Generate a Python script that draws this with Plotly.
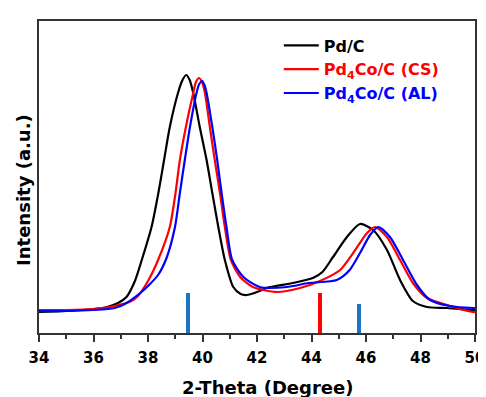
import plotly.graph_objects as go

# Pd/C (black)
pdc_x = [34.0, 35.0, 36.0, 36.5, 36.9, 37.21, 37.52, 37.76, 38.13, 38.38, 38.59, 38.80, 39.10, 39.25, 39.40,
         39.53, 39.66, 39.90, 40.15, 40.36, 40.58, 40.82, 41.13, 41.4, 41.63, 42.0, 42.36, 43.32, 44.05, 44.4,
         44.79, 45.30, 45.78, 46.26, 46.77, 47.25, 47.72, 48.24, 48.97, 49.93, 50.0]
pdc_y = [21, 22, 24, 26, 30, 36, 52, 72, 106, 140, 173, 206, 240, 252, 258,
         253, 240, 206, 173, 140, 106, 73, 46, 39, 38, 41, 45, 50, 55, 61,
         76, 96, 109, 103, 83, 53, 32, 26, 25, 23, 23]

# Pd4Co/C (CS) (red)
cs_x = [34.0, 35.0, 36.0, 36.78, 37.39, 37.63, 38.0, 38.37, 38.80, 39.01, 39.17, 39.39, 39.66, 39.76, 39.87,
        39.98, 40.09, 40.27, 40.45, 40.64, 40.82, 41.04, 41.38, 41.85, 42.73, 43.58, 44.31, 45.05, 45.53,
        46.04, 46.33, 46.77, 47.25, 47.72, 48.24, 48.97, 49.93, 50.0]
cs_y = [23, 23, 24, 27, 32, 37, 52, 73, 106, 140, 173, 206, 240, 251, 255,
        251, 240, 206, 173, 140, 106, 73, 56, 46, 41, 45, 52, 63, 80,
        100, 106, 96, 73, 50, 35, 28, 21, 21]

# Pd4Co/C (AL) (blue)
al_x = [34.0, 35.0, 36.0, 36.78, 37.15, 37.76, 38.0, 38.37, 38.68, 38.99, 39.17, 39.35, 39.54, 39.78, 39.88,
        39.99, 40.07, 40.15, 40.36, 40.54, 40.70, 40.88, 41.09, 41.5, 42.1, 43.09, 43.9, 44.93, 45.4, 45.78,
        46.15, 46.45, 46.88, 47.36, 47.87, 48.35, 49.08, 49.93, 50.0]
al_y = [22, 22, 23, 25, 29, 41, 47, 58, 75, 106, 140, 173, 206, 240, 249,
        252, 248, 240, 206, 173, 140, 106, 73, 56, 46, 46, 50, 53, 63, 80,
        98, 106, 96, 73, 48, 33, 27, 25, 25]

# Reference lines
ref_x = [39.46, 44.31, 45.75]
ref_h = [40, 40, 29]
ref_colors = ["#1a75c2", "#ff0000", "#1a75c2"]

FONT = "DejaVu Sans"

fig = go.Figure()
fig.add_trace(go.Bar(x=ref_x, y=ref_h, width=0.14, marker=dict(color=ref_colors, line=dict(width=0)),
                     showlegend=False, hoverinfo="skip"))
fig.add_trace(go.Scatter(x=pdc_x, y=pdc_y, mode="lines", line=dict(color="black", width=2.2, shape="spline", smoothing=0.7),
                         name="<b>Pd/C</b>"))
fig.add_trace(go.Scatter(x=cs_x, y=cs_y, mode="lines", line=dict(color="#ff0000", width=2.2, shape="spline", smoothing=0.7),
                         name="<span style='color:#ff0000'><b>Pd<sub>4</sub>Co/C (CS)</b></span>"))
fig.add_trace(go.Scatter(x=al_x, y=al_y, mode="lines", line=dict(color="#0000ff", width=2.2, shape="spline", smoothing=0.7),
                         name="<span style='color:#0000ff'><b>Pd<sub>4</sub>Co/C (AL)</b></span>"))

fig.update_layout(
    width=478, height=389,
    margin=dict(l=31, r=11, t=13, b=64, autoexpand=False),
    paper_bgcolor="white", plot_bgcolor="white",
    font=dict(family=FONT, color="black"),
    legend=dict(x=0.55, y=0.976, xanchor="left", yanchor="top", bgcolor="rgba(0,0,0,0)",
                font=dict(family=FONT, size=16, color="black"), itemwidth=35, tracegroupgap=0),
    bargap=0,
    annotations=[
        dict(text="<b>2-Theta (Degree)</b>", xref="paper", yref="paper", x=0.525, y=-0.176,
             xanchor="center", yanchor="middle", showarrow=False,
             font=dict(family=FONT, size=18, color="black")),
        dict(text="<b>Intensity (a.u.)</b>", xref="paper", yref="paper", x=-0.037, y=0.458,
             xanchor="center", yanchor="middle", showarrow=False, textangle=-90,
             font=dict(family=FONT, size=18, color="black")),
    ],
)
fig.update_xaxes(range=[34, 50], tickvals=[34, 36, 38, 40, 42, 44, 46, 48, 50],
                 ticks="outside", ticklen=7, tickwidth=1.5, tickcolor="#333", ticklabelstandoff=3,
                 minor=dict(ticks="outside", ticklen=4, tickwidth=1.5, tickcolor="#333", dtick=1),
                 showline=True, linecolor="#333", linewidth=1.5, mirror=True, showgrid=False, zeroline=False,
                 automargin=False,
                 tickfont=dict(family=FONT, size=15, color="black", weight="bold"))
fig.update_yaxes(range=[0, 312], showticklabels=False, ticks="",
                 showline=True, linecolor="#333", linewidth=1.5, mirror=True, showgrid=False, zeroline=False,
                 automargin=False)

fig.write_html("out.html")
